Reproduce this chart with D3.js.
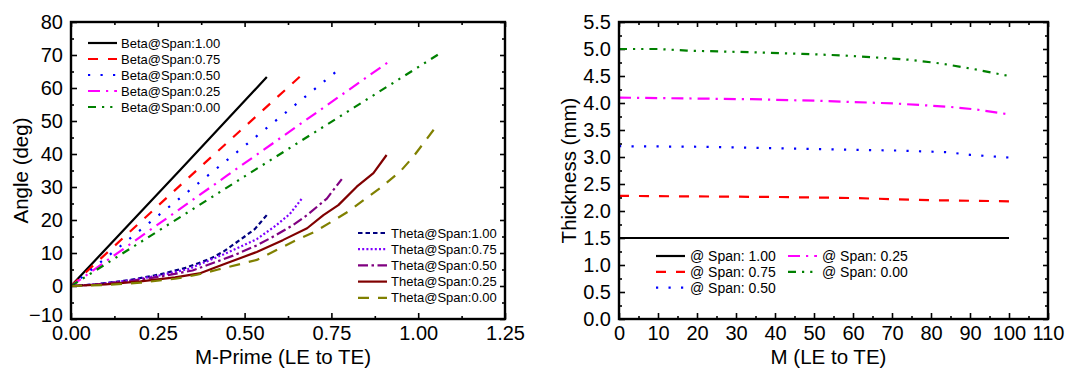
<!DOCTYPE html>
<html><head><meta charset="utf-8">
<script src="https://cdn.jsdelivr.net/npm/d3@7"></script>
<style>
body{margin:0;background:#fff;}
svg text{font-family:"Liberation Sans",Arial,sans-serif;fill:#000;}
</style></head>
<body><svg id="c" width="1067" height="369"></svg>
<script>
// ---------- Left chart data ----------
const betaLabels = ["Beta@Span:1.00","Beta@Span:0.75","Beta@Span:0.50","Beta@Span:0.25","Beta@Span:0.00"];
const beta100 = [[0,0],[0.315,35.2],[0.564,63.3]];
const beta075 = [[0,0],[0.33,32],[0.665,64]];
const beta050 = [[0,0],[0.523,44.4],[0.776,66]];
const beta025 = [[0,0],[0.45,33.5],[0.913,67.8]];
const beta000 = [[0,0],[0.5,33.2],[1.063,70.5]];
const thetaLabels = ["Theta@Span:1.00","Theta@Span:0.75","Theta@Span:0.50","Theta@Span:0.25","Theta@Span:0.00"];
const theta100 = [[0,0],[0.07,0.5],[0.17,1.8],[0.26,3.6],[0.33,5.5],[0.40,8.2],[0.44,10.5],[0.49,14.2],[0.53,17.3],[0.564,21.5]];
const theta075 = [[0,0],[0.07,0.5],[0.17,1.7],[0.26,3.3],[0.34,5.2],[0.44,9.6],[0.535,14.2],[0.59,18.3],[0.63,21.8],[0.668,26.9]];
const theta050 = [[0,0],[0.07,0.4],[0.17,1.5],[0.26,2.9],[0.35,4.7],[0.467,9.2],[0.535,12.3],[0.59,15.4],[0.64,18.5],[0.68,21.5],[0.737,26.5],[0.78,32.4]];
const theta025 = [[0,0],[0.1,0.5],[0.2,1.4],[0.3,2.6],[0.37,3.8],[0.44,6.6],[0.535,10.3],[0.61,13.9],[0.68,17.5],[0.727,21.5],[0.77,24.5],[0.823,30.1],[0.871,34.2],[0.909,39.7]];
const theta000 = [[0,0],[0.1,0.3],[0.2,1.0],[0.3,2.2],[0.363,3.4],[0.424,5.0],[0.535,7.9],[0.592,10.9],[0.645,13.7],[0.698,16.2],[0.751,19.5],[0.802,22.8],[0.85,26.6],[0.898,30.3],[0.95,34.9],[0.986,39.2],[1.06,49.5]];
const leftXTicks = [0,0.25,0.5,0.75,1.0,1.25];
const leftYTicks = [-10,0,10,20,30,40,50,60,70,80];

// ---------- Right chart data ----------
const thickLabels = ["@ Span: 1.00","@ Span: 0.75","@ Span: 0.50","@ Span: 0.25","@ Span: 0.00"];
const thick100 = [[0,1.5],[100,1.5]];
const thick075 = [[0,2.28],[20,2.27],[40,2.26],[60,2.24],[80,2.2],[100,2.18]];
const thick050 = [[0,3.2],[20,3.19],[48,3.15],[71,3.12],[84,3.09],[90,3.04],[100,2.99]];
const thick025 = [[0,4.1],[34,4.07],[51.5,4.04],[71,3.99],[84.6,3.93],[91.5,3.88],[100,3.79]];
const thick000 = [[0,5.0],[10,5.0],[17.4,4.97],[34.4,4.94],[47,4.91],[57.5,4.88],[66.5,4.84],[74.6,4.8],[82.7,4.73],[90.8,4.63],[100,4.5]];
const rightXTicks = [0,10,20,30,40,50,60,70,80,90,100,110];
const rightYTicks = [0,0.5,1,1.5,2,2.5,3,3.5,4,4.5,5,5.5];

// styles
const S = {
  solidK:{c:"#000000",d:null},
  dashR:{c:"#ff0000",d:"10,10"},
  dotB:{c:"#0000ff",d:"2.2,10.3"},
  dashDotM:{c:"#ff00ff",d:"12,6,2.2,6"},
  dashDotDotG:{c:"#008000",d:"8,6,2.2,6,2.2,6"},
  shortDashN:{c:"#000080",d:"4.5,3"},
  shortDotV:{c:"#8000ff",d:"2,2.2"},
  dashDotP:{c:"#800080",d:"10,3.5,2.5,3.5"},
  solidW:{c:"#800000",d:null},
  dashO:{c:"#808000",d:"11,9"}
};

const svg = d3.select("#c");
const FS = 20;

function chart(o){
  const g = svg.append("g");
  const x = d3.scaleLinear().domain(o.xd).range([o.l,o.r]);
  const y = d3.scaleLinear().domain(o.yd).range([o.b,o.t]);
  const ax = (gen, tr, vals, size, fmt, pad) => {
    const a = gen.tickValues(vals).tickSize(size).tickSizeOuter(0).tickPadding(pad).tickFormat(fmt);
    const sel = g.append("g").attr("transform",tr).call(a);
    sel.select(".domain").remove();
    sel.selectAll("line").attr("stroke","#000").attr("stroke-width",1.6);
    sel.selectAll("text").attr("font-size",FS).attr("font-family","Liberation Sans, Arial, sans-serif");
    return sel;
  };
  ax(d3.axisBottom(x), `translate(0,${o.b})`, o.xt, -6, o.fx, 7);
  ax(d3.axisBottom(x), `translate(0,${o.b})`, o.xm, -3, ()=>"", 7);
  ax(d3.axisTop(x), `translate(0,${o.t})`, o.xt, -5, ()=>"", 8);
  ax(d3.axisTop(x), `translate(0,${o.t})`, o.xm, -3, ()=>"", 8);
  const yl = ax(d3.axisLeft(y), `translate(${o.l},0)`, o.yt, -6, o.fy, 8);
  if (o.nudgeLowest) {
    // lowest y label nudged up slightly so it clears the first x label
    yl.selectAll(".tick").filter(d=>d===o.yd[0]).select("text").attr("y",-o.nudgeLowest);
  }
  ax(d3.axisLeft(y), `translate(${o.l},0)`, o.ym, -3, ()=>"", 8);
  ax(d3.axisRight(y), `translate(${o.r},0)`, o.yt, -5, ()=>"", 8);
  ax(d3.axisRight(y), `translate(${o.r},0)`, o.ym, -3, ()=>"", 8);
  const line = d3.line().x(d=>x(d[0])).y(d=>y(d[1]));
  o.series.forEach(s=>{
    g.append("path").attr("d",line(s.data)).attr("fill","none")
      .attr("stroke",s.st.c).attr("stroke-width",2.2)
      .attr("stroke-dasharray",s.st.d).attr("stroke-linejoin","round");
  });
  g.append("rect").attr("x",o.l).attr("y",o.t).attr("width",o.r-o.l).attr("height",o.b-o.t)
    .attr("fill","none").attr("stroke","#000").attr("stroke-width",2.4);
  g.append("text").attr("x",(o.l+o.r)/2-5).attr("y",o.b+45).attr("text-anchor","middle")
    .attr("font-size",FS+0.5).text(o.xtitle);
  g.append("text").attr("transform",`translate(${o.ytx},${(o.t+o.b)/2}) rotate(-90)`)
    .attr("text-anchor","middle").attr("font-size",FS+0.5).text(o.ytitle);
  o.legends.forEach(L=>{
    L.items.forEach((it,i)=>{
      const yy = L.y + i*L.dy;
      g.append("line").attr("x1",L.x).attr("x2",L.x+L.w).attr("y1",yy).attr("y2",yy)
        .attr("stroke",it.st.c).attr("stroke-width",2.2).attr("stroke-dasharray",it.st.d);
      g.append("text").attr("x",L.x+L.w+L.gap).attr("y",yy+L.fs*0.36).attr("font-size",L.fs).text(it.label);
    });
  });
}

const leftSeries = [
  {data:beta100,st:S.solidK},{data:beta075,st:S.dashR},{data:beta050,st:S.dotB},
  {data:beta025,st:S.dashDotM},{data:beta000,st:S.dashDotDotG},
  {data:theta100,st:S.shortDashN},{data:theta075,st:S.shortDotV},{data:theta050,st:S.dashDotP},
  {data:theta025,st:S.solidW},{data:theta000,st:S.dashO}
];
chart({
  l:71,r:505,t:22,b:319,xd:[0,1.25],yd:[-10,80],nudgeLowest:4,
  xt:leftXTicks, xm:d3.range(0.125,1.25,0.25), yt:leftYTicks, ym:d3.range(-5,80,10),
  fx:d3.format(".2f"), fy:d3.format("d"),
  xtitle:"M-Prime (LE to TE)", ytitle:"Angle (deg)", ytx:28,
  series:leftSeries,
  legends:[
    {x:88,y:43,dy:16,w:29,gap:4,fs:13,items:betaLabels.map((lb,i)=>({label:lb,st:leftSeries[i].st}))},
    {x:358,y:233,dy:16.2,w:29,gap:4,fs:13,items:thetaLabels.map((lb,i)=>({label:lb,st:leftSeries[i+5].st}))}
  ]
});

const rightSeries = [
  {data:thick100,st:S.solidK},{data:thick075,st:S.dashR},{data:thick050,st:S.dotB},
  {data:thick025,st:S.dashDotM},{data:thick000,st:S.dashDotDotG}
];
chart({
  l:619,r:1048,t:22,b:319,xd:[0,110],yd:[0,5.5],nudgeLowest:0,
  xt:rightXTicks, xm:d3.range(5,110,10), yt:rightYTicks, ym:d3.range(0.25,5.5,0.5),
  fx:d3.format("d"), fy:d3.format(".1f"),
  xtitle:"M (LE to TE)", ytitle:"Thickness (mm)", ytx:576,
  series:rightSeries,
  legends:[
    {x:656,y:256,dy:15.8,w:29,gap:5,fs:14,items:thickLabels.slice(0,3).map((lb,i)=>({label:lb,st:rightSeries[i].st}))},
    {x:788,y:256,dy:15.8,w:29,gap:5,fs:14,items:thickLabels.slice(3).map((lb,i)=>({label:lb,st:rightSeries[i+3].st}))}
  ]
});
</script></body></html>
